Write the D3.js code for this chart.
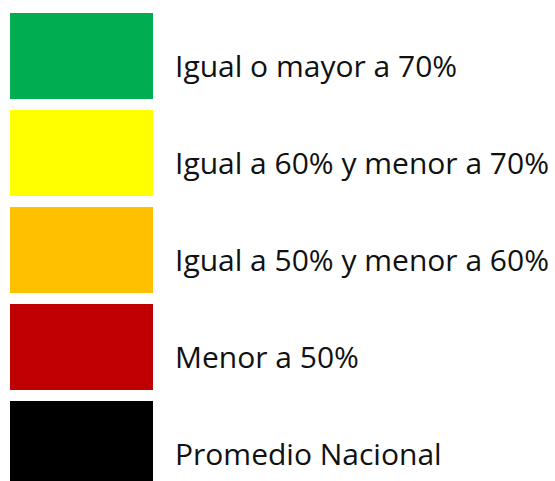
<!DOCTYPE html>
<html><head><meta charset="utf-8">
<script src="https://cdn.jsdelivr.net/npm/d3@7"></script>
<style>html,body{margin:0;padding:0;background:#fff;overflow:hidden}</style>
</head><body>
<svg id="c" width="555" height="481"></svg>
<script>
const labels = ["Igual o mayor a 70%","Igual a 60% y menor a 70%","Igual a 50% y menor a 60%","Menor a 50%","Promedio Nacional"];
const colors = ["#00AD50","#FFFF00","#FFC000","#C00000","#000000"];

const svg = d3.select("#c");
const y = d3.scaleBand().domain(labels).range([13, 487]).paddingInner(11/97).paddingOuter(0);
const g = svg.selectAll("g.item").data(labels).join("g").attr("class","item")
  .attr("transform", d => `translate(0,${y(d)})`);
g.append("rect").attr("x",10).attr("width",143).attr("height",y.bandwidth())
  .attr("fill",(d,i)=>colors[i]);
g.append("text").attr("x",175).attr("y",63.5).text(d=>d)
  .attr("font-family","'Open Sans', sans-serif").attr("font-size",30).attr("fill","#111");
</script>
</body></html>
